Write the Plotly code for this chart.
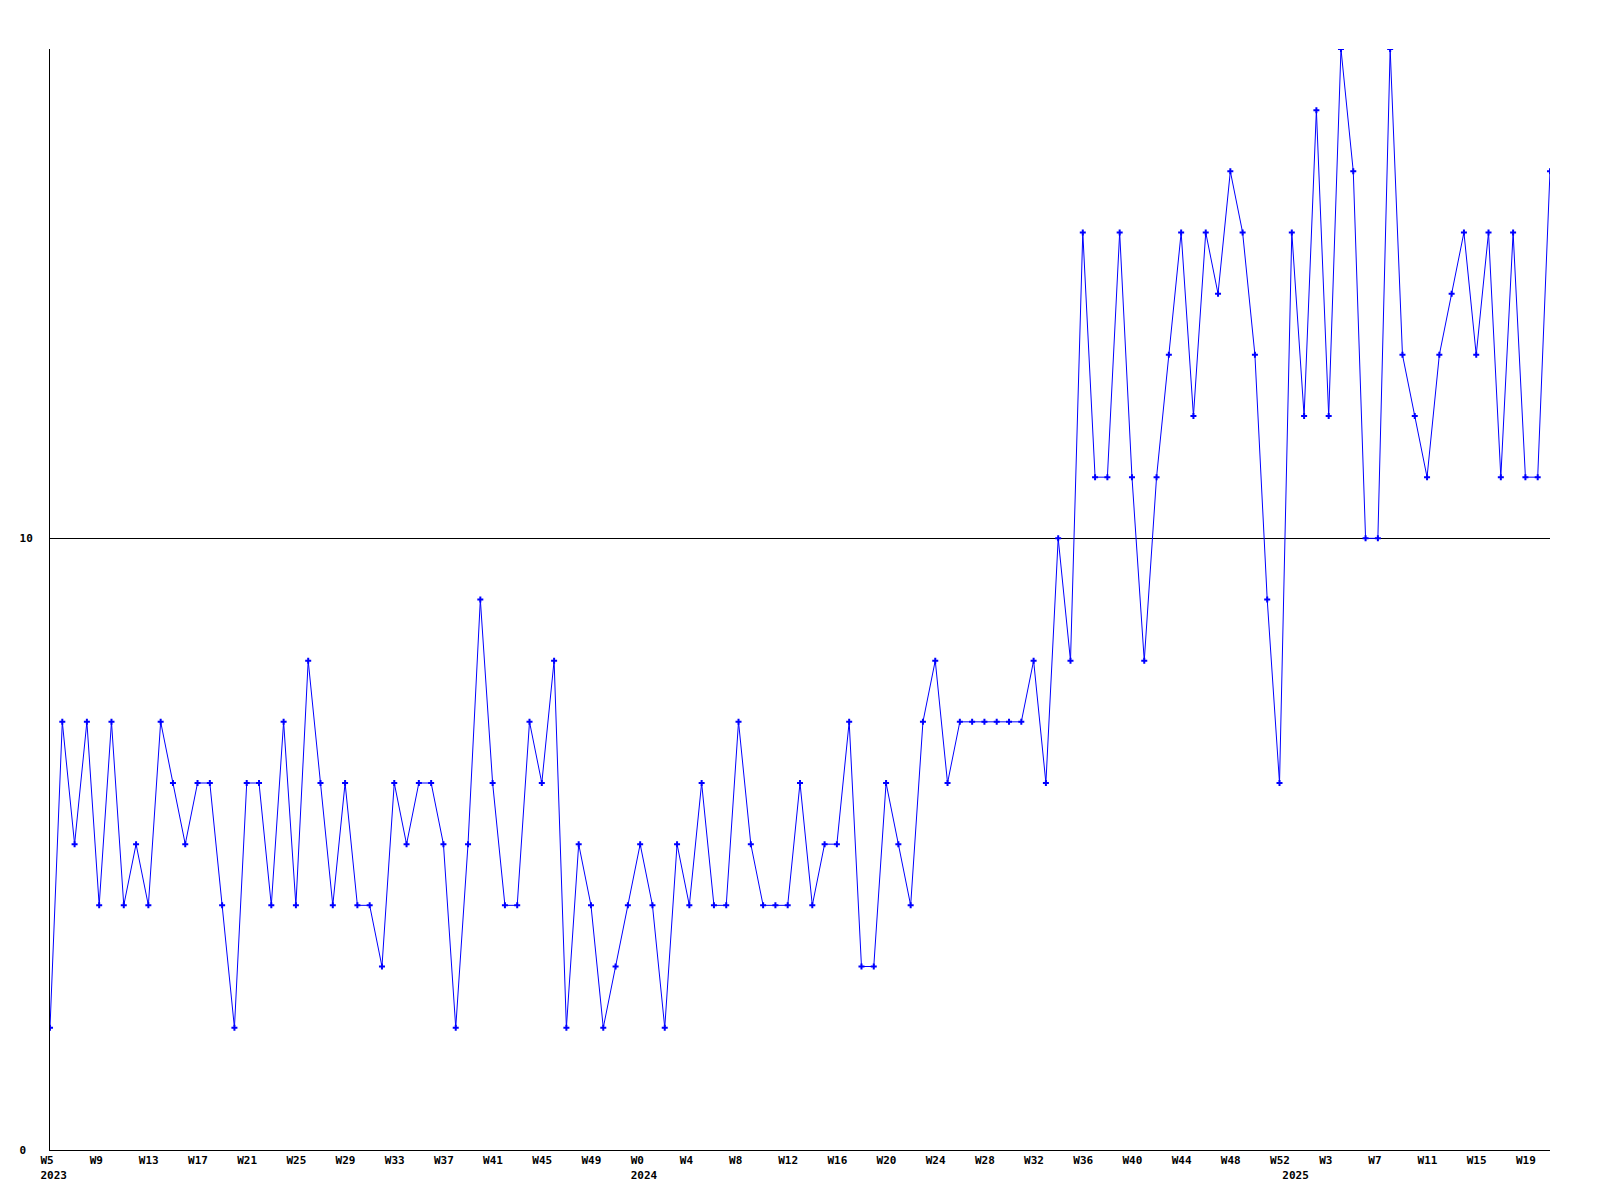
import plotly.graph_objects as go

# Weekly series: 2023 W5..W52, 2024 W0..W52, 2025 W0..W21
years = [2023] * 48 + [2024] * 53 + [2025] * 22
weeks = list(range(5, 53)) + list(range(0, 53)) + list(range(0, 22))

values = [
    2, 7, 5, 7, 4, 7, 4, 5, 4, 7, 6, 5, 6, 6, 4, 2, 6, 6, 4, 7,
    4, 8, 6, 4, 6, 4, 4, 3, 6, 5, 6, 6, 5, 2, 5, 9, 6, 4, 4, 7,
    6, 8, 2, 5, 4, 2, 3, 4, 5, 4, 2, 5, 4, 6, 4, 4, 7, 5, 4, 4,
    4, 6, 4, 5, 5, 7, 3, 3, 6, 5, 4, 7, 8, 6, 7, 7, 7, 7, 7, 7,
    8, 6, 10, 8, 15, 11, 11, 15, 11, 8, 11, 13, 15, 12, 15, 14, 16, 15, 13, 9,
    6, 15, 12, 17, 12, 18, 16, 10, 10, 18, 13, 12, 11, 13, 14, 15, 13, 15, 11, 15,
    11, 11, 16,
]

y_tickvals = [0, 10]
y_ticktext = ["0\u00a0", "10"]

x_keys = [f"{y}-W{w:02d}" for y, w in zip(years, weeks)]

tickvals, ticktext = [], []
for i, (y, w) in enumerate(zip(years, weeks)):
    first_of_year = i == 0 or years[i - 1] != y
    if i % 4 == 0 or first_of_year:
        top = f"W{w}" if i % 4 == 0 else "\u00a0"
        txt = top + (f"<br>{y}" if first_of_year else "")
        tickvals.append(x_keys[i])
        ticktext.append(txt)

font = dict(family="DejaVu Sans Mono", size=11, color="black", weight="bold")

fig = go.Figure()
fig.add_trace(go.Scatter(
    x=x_keys, y=values, mode="lines+markers",
    line=dict(color="#0000ff", width=1),
    marker=dict(symbol="cross", size=5, color="#0000ff", line=dict(width=0)),
    cliponaxis=True,
    showlegend=False,
))

fig.update_layout(
    width=1592, height=1192,
    margin=dict(l=42, r=50, t=41, b=50, pad=0),
    paper_bgcolor="white", plot_bgcolor="white",
    font=font,
    xaxis=dict(
        type="category", range=[0, len(values) - 1],
        tickmode="array", tickvals=tickvals, ticktext=ticktext,
        showgrid=False, zeroline=False, showline=True,
        linecolor="black", linewidth=1, ticks="",
        ticklabelposition="outside right", ticklabelshift=-10,
        tickangle=0, tickfont=font,
    ),
    yaxis=dict(
        range=[0, 18], tickmode="array", tickvals=y_tickvals, ticktext=y_ticktext,
        showgrid=True, gridcolor="black", gridwidth=1,
        zeroline=False, showline=True, linecolor="black", linewidth=1,
        ticks="", ticklabelstandoff=14, tickfont=font,
    ),
)

fig.write_html("out.html")
